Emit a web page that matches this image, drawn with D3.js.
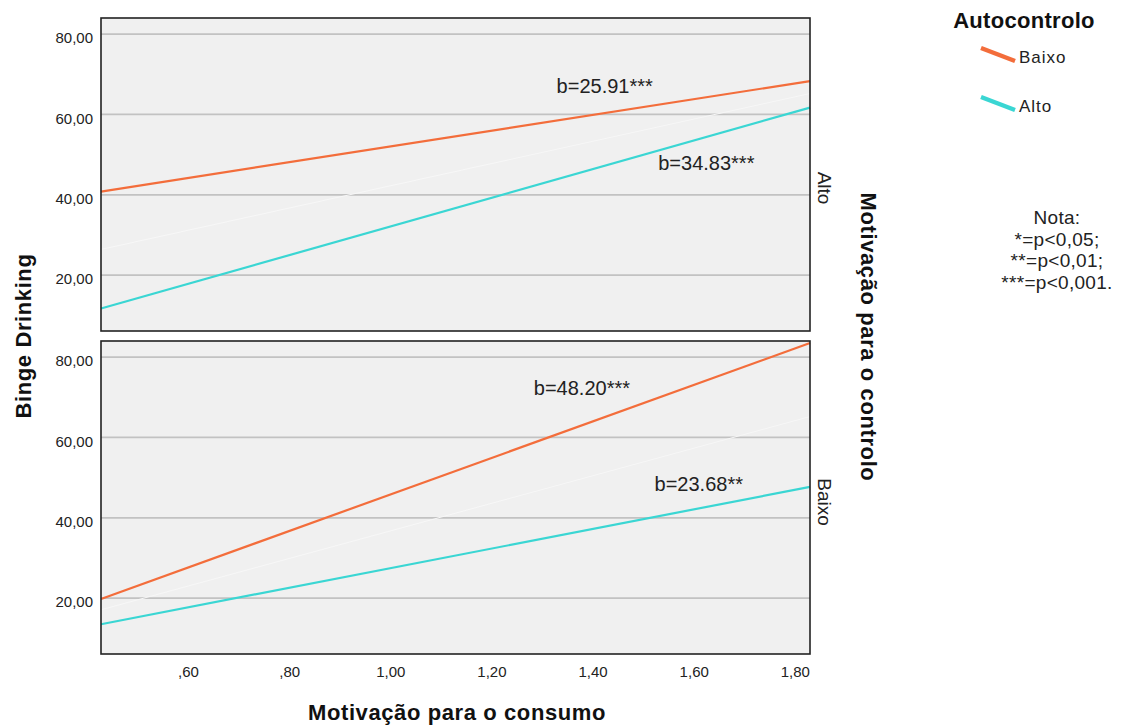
<!DOCTYPE html>
<html lang="pt">
<head>
	<meta charset="UTF-8"/>
	<title>Binge Drinking - Motivação para o consumo</title>
	<script src="https://d3js.org/d3.v7.min.js"></script>
	<style>
		body { margin: 0; background: #ffffff; }
		svg { display: block; font-family: "Liberation Sans", Arial, sans-serif; }
		.domain { display: none; }
	</style>
</head>
<body>
<script>

	var w = 1126;
	var h = 727;

	// data
	var panels = ["Alto", "Baixo"];                 // Motivação para o controlo
	var series = ["Baixo", "Alto"];                 // Autocontrolo
	var xEnds = [0.424, 1.826];                     // fitted lines span the whole x range
	var baixoAlto = [40.8, 68.3];
	var altoAlto = [11.7, 61.7];
	var totalAlto = [26.4, 65.2];
	var baixoBaixo = [19.8, 83.5];
	var altoBaixo = [13.5, 47.7];
	var totalBaixo = [17.1, 65.2];
	var xTicks = [0.6, 0.8, 1.0, 1.2, 1.4, 1.6, 1.8];
	var xTickLabels = [",60", ",80", "1,00", "1,20", "1,40", "1,60", "1,80"];
	var yTicks = [20, 40, 60, 80];
	var yTickLabels = ["20,00", "40,00", "60,00", "80,00"];
	var annoText = [["b=25.91***", "b=34.83***"], ["b=48.20***", "b=23.68**"]];
	var annoX = [[1.42, 1.621], [1.375, 1.606]];
	var annoY = [[65.3, 46.2], [70.6, 46.7]];
	var notes = ["Nota:", "*=p<0,05;", "**=p<0,01;", "***=p<0,001."];

	var colors = { "Baixo": "#f36d3b", "Alto": "#3ad6d3" };

	var left = 101, right = 810;
	var panelTop = [18, 341];
	var panelH = 313;

	var svg = d3.select("body")
				.append("svg")
				.attr("width", w)
				.attr("height", h);

	var xScale = d3.scaleLinear()
		.domain(xEnds)
		.range([left, right]);

	var lineData = [
		{ total: totalAlto, Baixo: baixoAlto, Alto: altoAlto },
		{ total: totalBaixo, Baixo: baixoBaixo, Alto: altoBaixo }
	];

	panels.forEach(function(p, i) {
		var top = panelTop[i];
		var yScale = d3.scaleLinear()
			.domain([6.1, 84.0])
			.range([top + panelH, top]);

		var g = svg.append("g");

		g.append("rect")
			.attr("x", left)
			.attr("y", top)
			.attr("width", right - left)
			.attr("height", panelH)
			.attr("fill", "#f0f0f0");

		// gridlines
		g.selectAll("line.grid")
			.data(yTicks)
			.enter()
			.append("line")
			.attr("class", "grid")
			.attr("x1", left)
			.attr("x2", right)
			.attr("y1", function(d) { return yScale(d); })
			.attr("y2", function(d) { return yScale(d); })
			.attr("stroke", "#c2c2c2")
			.attr("stroke-width", 1.8);

		// y axis labels
		var yAxis = d3.axisLeft(yScale)
			.tickValues(yTicks)
			.tickSize(0)
			.tickPadding(8)
			.tickFormat(function(d, k) { return yTickLabels[k]; });

		g.append("g")
			.attr("transform", "translate(" + left + ",4)")
			.call(yAxis)
			.selectAll("text")
			.attr("font-family", "Liberation Sans, Arial, sans-serif")
			.attr("font-size", "15px")
			.attr("fill", "#222");

		var line = d3.line()
			.x(function(d) { return xScale(d[0]); })
			.y(function(d) { return yScale(d[1]); });

		// whitish total fit line, barely visible
		g.append("path")
			.datum(xEnds.map(function(x, k) { return [x, lineData[i].total[k]]; }))
			.attr("d", line)
			.attr("fill", "none")
			.attr("stroke", "#f7f7f7")
			.attr("stroke-width", 1);

		series.forEach(function(s) {
			g.append("path")
				.datum(xEnds.map(function(x, k) { return [x, lineData[i][s][k]]; }))
				.attr("d", line)
				.attr("fill", "none")
				.attr("stroke", colors[s])
				.attr("stroke-width", 2.2);
		});

		// b annotations
		g.selectAll("text.anno")
			.data(annoText[i])
			.enter()
			.append("text")
			.attr("class", "anno")
			.attr("x", function(d, k) { return xScale(annoX[i][k]); })
			.attr("y", function(d, k) { return yScale(annoY[i][k]); })
			.attr("text-anchor", "middle")
			.attr("font-size", "20px")
			.attr("fill", "#222")
			.text(function(d) { return d; });

		g.append("rect")
			.attr("x", left)
			.attr("y", top)
			.attr("width", right - left)
			.attr("height", panelH)
			.attr("fill", "none")
			.attr("stroke", "#222")
			.attr("stroke-width", 1.6);

		// strip label on the right
		var cy = i === 0 ? 188 : 502;
		svg.append("text")
			.attr("transform", "translate(818," + cy + ") rotate(90)")
			.attr("text-anchor", "middle")
			.attr("font-size", "19px")
			.attr("fill", "#222")
			.text(p);
	});

	// x axis labels under bottom panel
	var xAxis = d3.axisBottom(xScale)
		.tickValues(xTicks)
		.tickSize(0)
		.tickPadding(12)
		.tickFormat(function(d, k) { return xTickLabels[k]; });

	svg.append("g")
		.attr("transform", "translate(-2," + (panelTop[1] + panelH) + ")")
		.call(xAxis)
		.selectAll("text")
		.attr("font-family", "Liberation Sans, Arial, sans-serif")
		.attr("font-size", "15px")
		.attr("fill", "#222");

	// axis titles
	svg.append("text")
		.attr("x", 457)
		.attr("y", 720)
		.attr("text-anchor", "middle")
		.attr("font-size", "22px")
		.attr("font-weight", "bold")
		.attr("letter-spacing", "0.6px")
		.attr("fill", "#111")
		.text("Motivação para o consumo");

	svg.append("text")
		.attr("transform", "translate(31,336) rotate(-90)")
		.attr("text-anchor", "middle")
		.attr("font-size", "22px")
		.attr("font-weight", "bold")
		.attr("letter-spacing", "0.6px")
		.attr("fill", "#111")
		.text("Binge Drinking");

	svg.append("text")
		.attr("transform", "translate(861,337) rotate(90)")
		.attr("text-anchor", "middle")
		.attr("font-size", "22px")
		.attr("font-weight", "bold")
		.attr("letter-spacing", "0.6px")
		.attr("fill", "#111")
		.text("Motivação para o controlo");

	// legend
	svg.append("text")
		.attr("x", 1024)
		.attr("y", 28)
		.attr("text-anchor", "middle")
		.attr("font-size", "22px")
		.attr("font-weight", "bold")
		.attr("letter-spacing", "0.3px")
		.attr("fill", "#111")
		.text("Autocontrolo");

	var legend = svg.selectAll("g.legend")
		.data(series)
		.enter()
		.append("g")
		.attr("class", "legend")
		.attr("transform", function(d, i) { return "translate(0," + (i * 49) + ")"; });

	legend.append("line")
		.attr("x1", 981)
		.attr("y1", 48)
		.attr("x2", 1015)
		.attr("y2", 61)
		.attr("stroke", function(d) { return colors[d]; })
		.attr("stroke-width", 4.5);

	legend.append("text")
		.attr("x", 1019)
		.attr("y", 63)
		.attr("font-size", "17px")
		.attr("letter-spacing", "1px")
		.attr("fill", "#222")
		.text(function(d) { return d; });

	// note
	svg.selectAll("text.nota")
		.data(notes)
		.enter()
		.append("text")
		.attr("class", "nota")
		.attr("x", 1057)
		.attr("y", function(d, i) { return 224 + i * 21.5; })
		.attr("text-anchor", "middle")
		.attr("font-size", "19px")
		.attr("letter-spacing", "0.3px")
		.attr("fill", "#222")
		.text(function(d) { return d; });

</script>
</body>
</html>
